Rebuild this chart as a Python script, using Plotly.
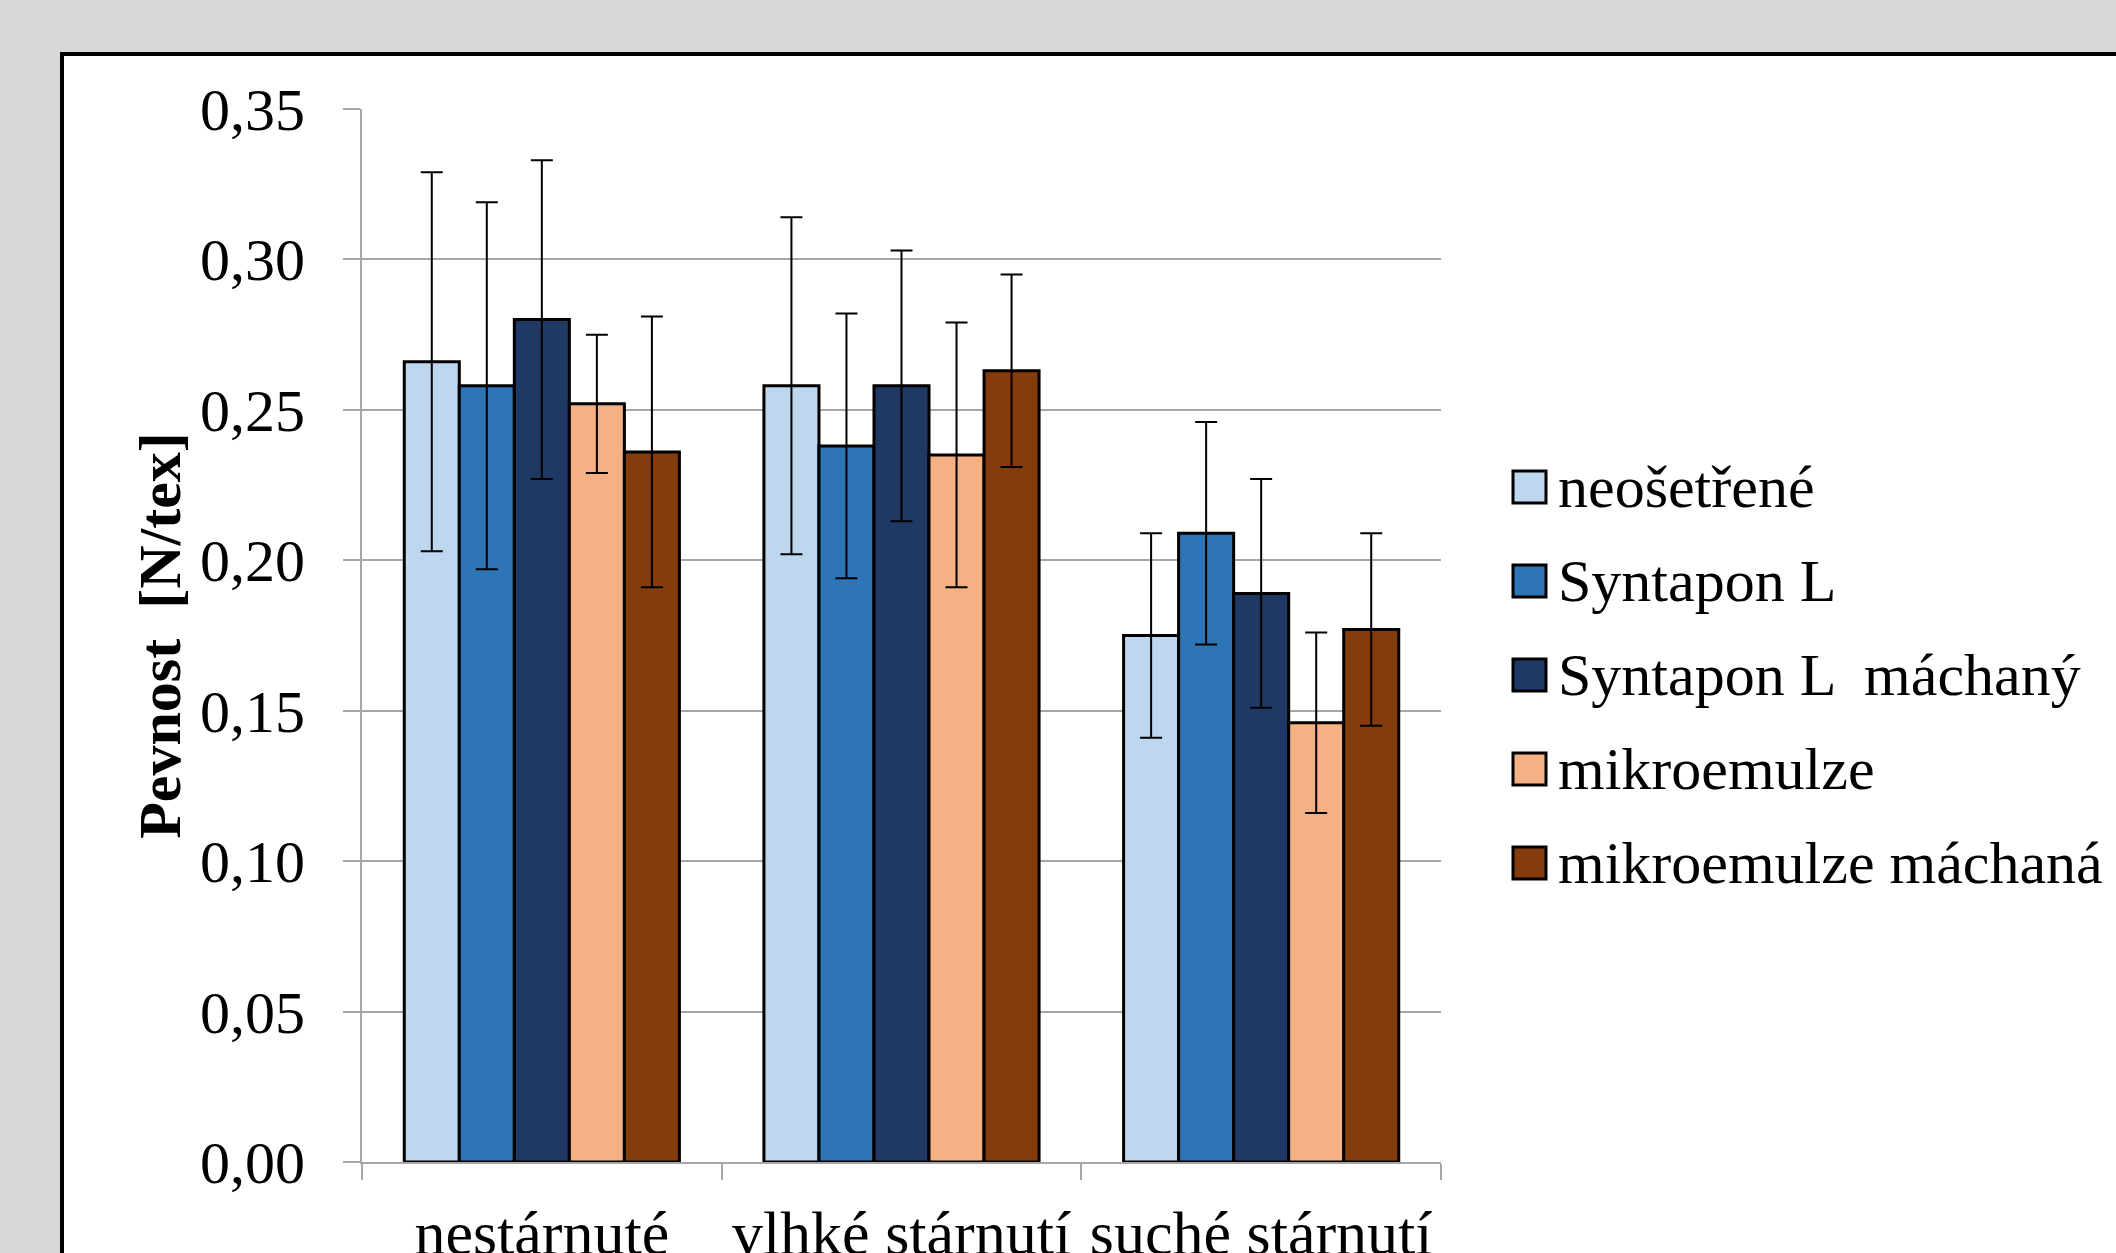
import plotly.graph_objects as go

categories = ["nestárnuté", "vlhké stárnutí", "suché stárnutí"]
series_names = ["neošetřené", "Syntapon L", "Syntapon L  máchaný", "mikroemulze", "mikroemulze máchaná"]
colors = ["#BDD7EE", "#2E75B6", "#203864", "#F4B183", "#843C0C"]

neosetrene = [0.266, 0.258, 0.175]
syntapon = [0.258, 0.238, 0.209]
syntapon_mach = [0.280, 0.258, 0.189]
mikroemulze = [0.252, 0.235, 0.146]
mikroemulze_mach = [0.236, 0.263, 0.177]

err_neosetrene = [0.063, 0.056, 0.034]
err_syntapon = [0.061, 0.044, 0.037]
err_syntapon_mach = [0.053, 0.045, 0.038]
err_mikroemulze = [0.023, 0.044, 0.030]
err_mikroemulze_mach = [0.045, 0.032, 0.032]

values = [neosetrene, syntapon, syntapon_mach, mikroemulze, mikroemulze_mach]
errors = [err_neosetrene, err_syntapon, err_syntapon_mach, err_mikroemulze, err_mikroemulze_mach]

y_ticks = [0, 0.05, 0.10, 0.15, 0.20, 0.25, 0.30, 0.35]

W, H = 2116, 1253
L, R, T, B = 362, 1441, 109, 1162
FONT = "Liberation Serif, Times New Roman, serif"
FS = 60


def px_x(px):
    return (px - L) / (R - L)


def px_y(py):
    return (B - py) / (B - T)


fig = go.Figure()
for name, col, vals, errs in zip(series_names, colors, values, errors):
    fig.add_trace(go.Bar(
        x=categories, y=vals, name=name,
        marker=dict(color=col, line=dict(color="black", width=3)),
        error_y=dict(type="data", array=errs, visible=True, color="black", thickness=2, width=11),
        showlegend=False,
    ))

shapes = [
    dict(type="rect", xref="paper", yref="paper", x0=px_x(62), x1=px_x(W + 40), y0=px_y(54), y1=px_y(H + 40),
         fillcolor="white", line=dict(color="black", width=4), layer="below"),
]
annotations = []
for i, (name, col) in enumerate(zip(series_names, colors)):
    cy = 487 + i * 94
    shapes.append(dict(type="rect", xref="paper", yref="paper",
                       x0=px_x(1513), x1=px_x(1546), y0=px_y(cy - 16), y1=px_y(cy + 16),
                       fillcolor=col, line=dict(color="black", width=3)))
    annotations.append(dict(xref="paper", yref="paper", x=px_x(1556), y=px_y(cy), text=name,
                            showarrow=False, xanchor="left", yanchor="middle",
                            font=dict(family=FONT, size=FS, color="black")))

fig.update_layout(
    width=W, height=H,
    margin=dict(l=L, r=W - R, t=T, b=H - B, pad=0, autoexpand=False),
    paper_bgcolor="#d8d8d8",
    plot_bgcolor="white",
    barmode="group",
    bargap=0.235,
    bargroupgap=0,
    separators=", ",
    font=dict(family=FONT, size=FS, color="black"),
    shapes=shapes,
    annotations=annotations,
    showlegend=False,
)
fig.update_yaxes(
    range=[0, 0.35], tickvals=y_ticks, tickformat=".2f",
    automargin=False,
    showgrid=True, gridcolor="#a6a6a6", gridwidth=2,
    showline=True, linecolor="#a6a6a6", linewidth=2,
    ticks="outside", ticklen=17, tickcolor="#a6a6a6", tickwidth=2,
    ticklabelstandoff=26,
    zeroline=False,
    title=dict(text="Pevnost  [N/tex]", font=dict(family=FONT, size=60, weight="bold"), standoff=0),
    tickfont=dict(family=FONT, size=FS),
)
fig.update_xaxes(
    automargin=False,
    showline=True, linecolor="#a6a6a6", linewidth=2,
    ticks="outside", tickson="boundaries", ticklen=16, tickcolor="#a6a6a6", tickwidth=2,
    ticklabelstandoff=16,
    tickfont=dict(family=FONT, size=62),
    showgrid=False,
)

fig.write_html("out.html", config={"displayModeBar": False},
               post_script="document.body.style.margin='0';document.body.style.overflow='hidden';")
